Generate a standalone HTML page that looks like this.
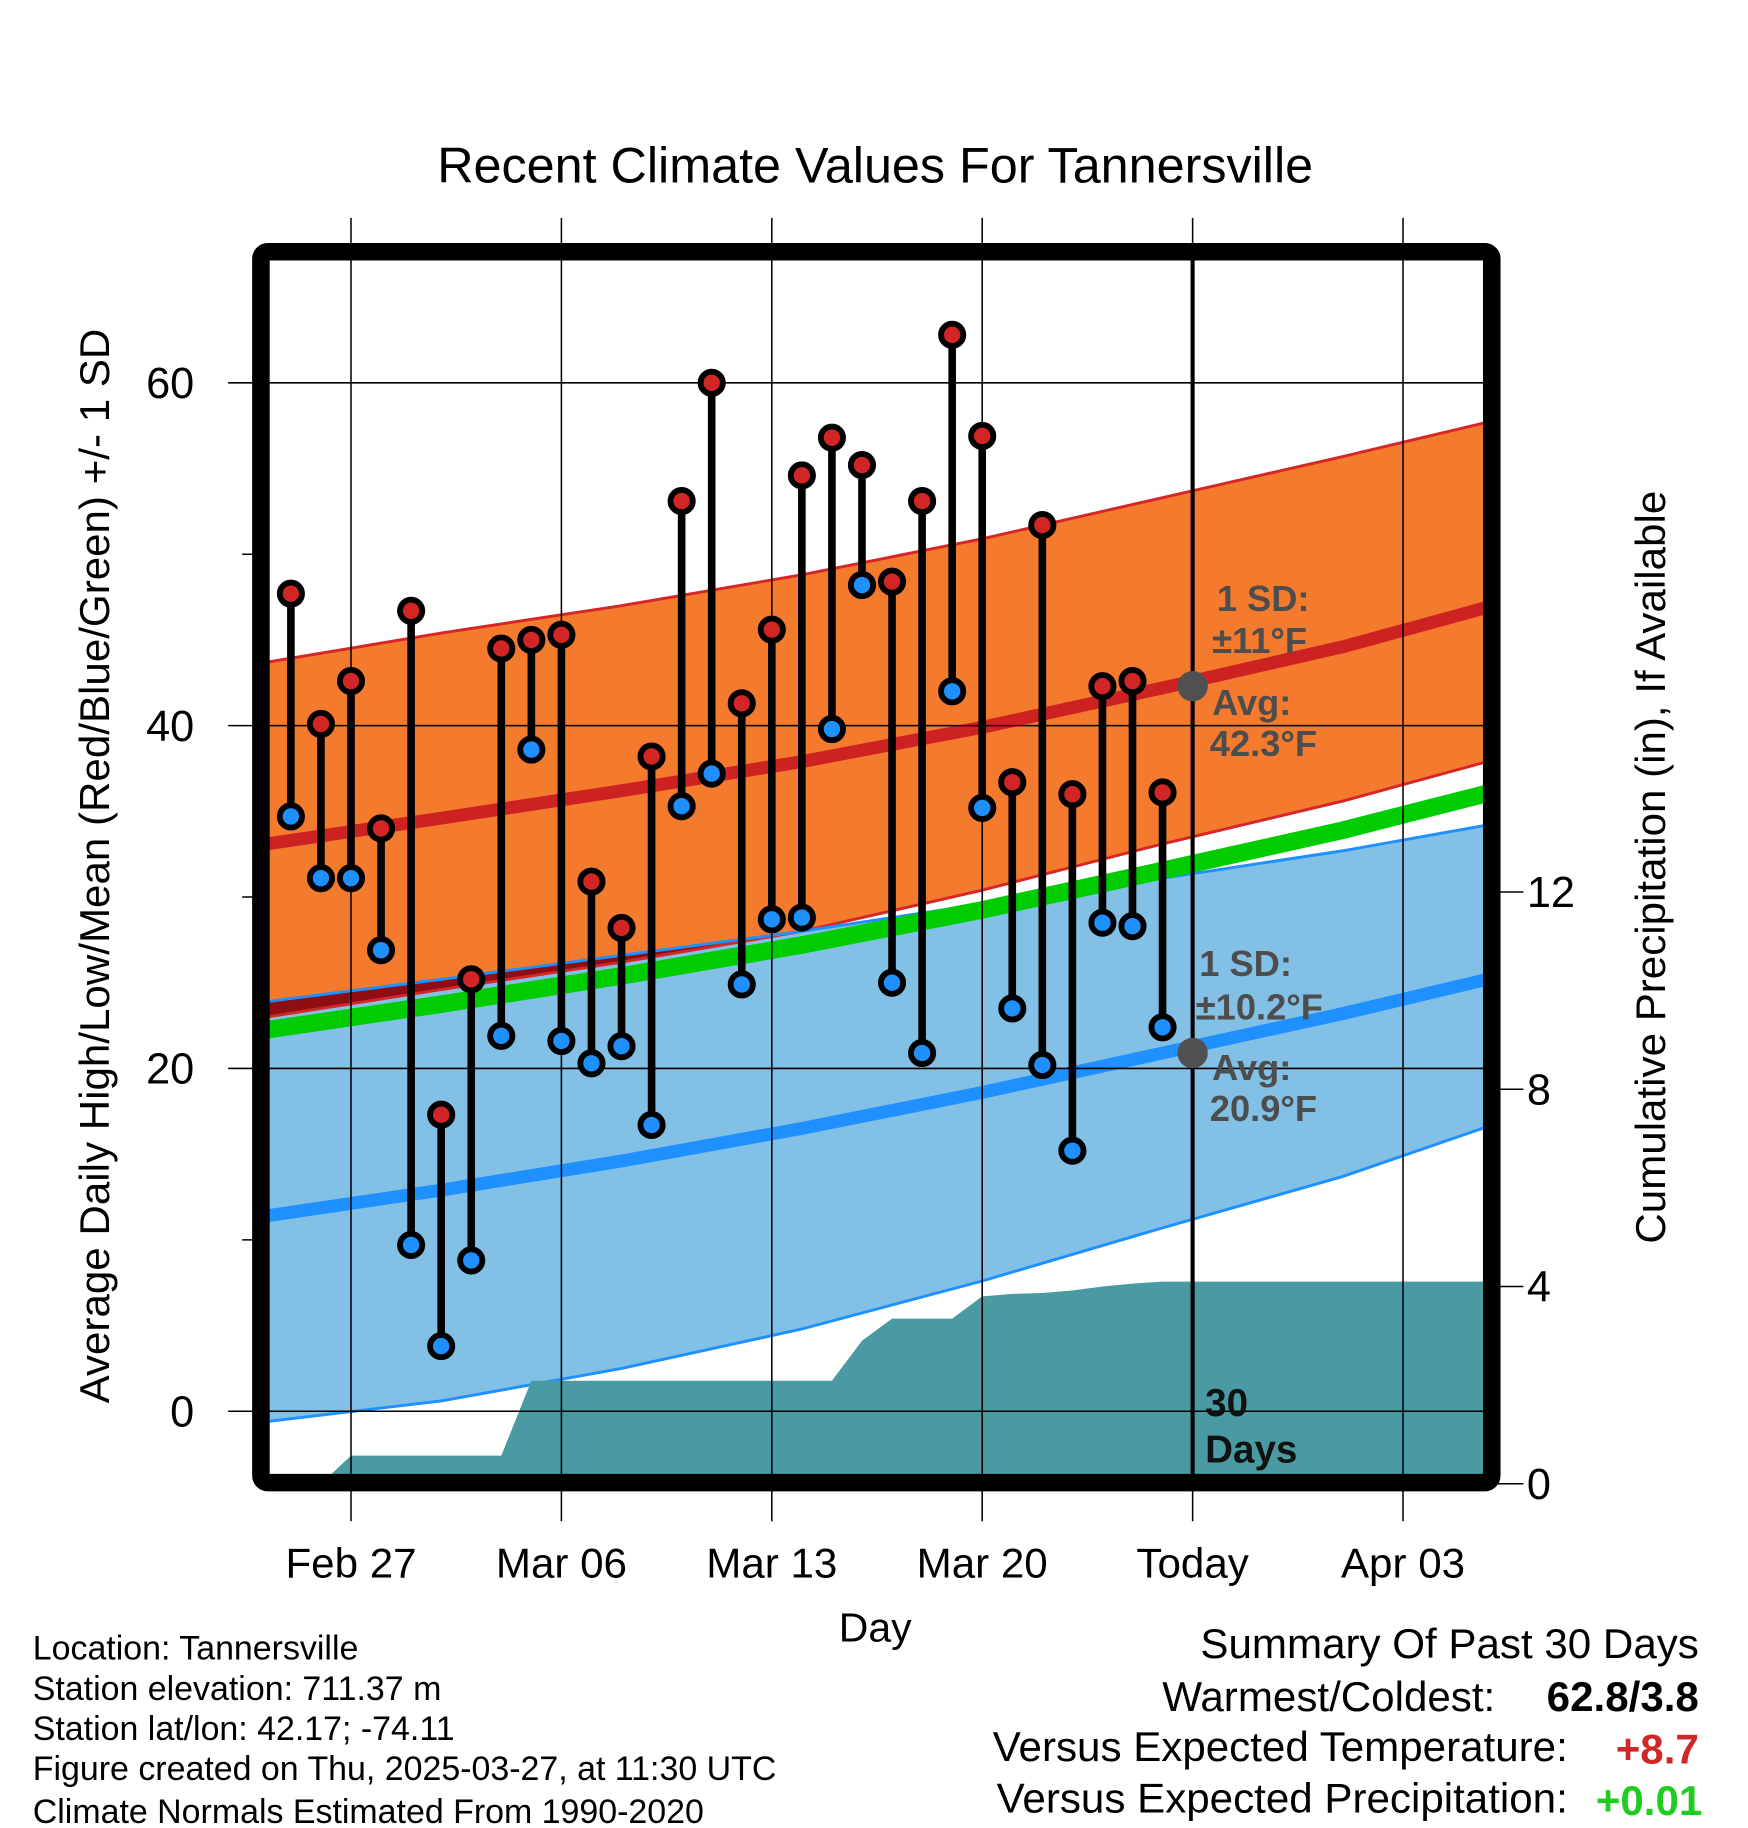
<!DOCTYPE html>
<html><head><meta charset="utf-8"><style>
html,body{margin:0;padding:0;background:#fff}
svg{display:block;font-family:"Liberation Sans",sans-serif}
</style></head><body>
<svg id="chart" width="1748" height="1828" viewBox="0 0 1494 1562" xmlns="http://www.w3.org/2000/svg">
<text x="748" y="156" font-size="43" text-anchor="middle">Recent Climate Values For Tannersville</text>
<g id="plot"></g>
<text transform="translate(93,740) rotate(-90)" font-size="36" text-anchor="middle">Average Daily High/Low/Mean (Red/Blue/Green) +/- 1 SD</text>
<text transform="translate(1423,741) rotate(-90)" font-size="36" text-anchor="middle">Cumulative Precipitation (in), If Available</text>
<text x="748" y="1403" font-size="35" text-anchor="middle">Day</text>
<g font-size="29">
<text x="28" y="1418">Location: Tannersville</text>
<text x="28" y="1453">Station elevation: 711.37 m</text>
<text x="28" y="1487">Station lat/lon: 42.17; -74.11</text>
<text x="28" y="1521">Figure created on Thu, 2025-03-27, at 11:30 UTC</text>
<text x="28" y="1558">Climate Normals Estimated From 1990-2020</text>
</g>
<g font-size="36">
<text x="1452" y="1417" text-anchor="end">Summary Of Past 30 Days</text>
<text x="1278" y="1462" text-anchor="end">Warmest/Coldest:</text>
<text x="1452" y="1462" text-anchor="end" font-weight="bold">62.8/3.8</text>
<text x="1340" y="1505" text-anchor="end">Versus Expected Temperature:</text>
<text x="1452" y="1507" text-anchor="end" font-weight="bold" fill="#d02828">+8.7</text>
<text x="1340" y="1549" text-anchor="end">Versus Expected Precipitation:</text>
<text x="1455" y="1551" text-anchor="end" font-weight="bold" fill="#1fcc1f">+0.01</text>
</g>
</svg>
<script>
const days=[-2,-1,0,1,2,3,4,5,6,7,8,9,10,11,12,13,14,15,16,17,18,19,20,21,22,23,24,25,26,27];
const highs=[47.7,40.1,42.6,34.0,46.7,17.3,25.2,44.5,45.0,45.3,30.9,28.2,38.2,53.1,60.0,41.3,45.6,54.6,56.8,55.2,48.4,53.1,62.8,56.9,36.7,51.7,36.0,42.3,42.6,36.1];
const lows=[34.7,31.1,31.1,26.9,9.7,3.8,8.8,21.9,38.6,21.6,20.3,21.3,16.7,35.3,37.2,24.9,28.7,28.8,39.8,48.2,25.0,20.9,42.0,35.2,23.5,20.2,15.2,28.5,28.3,22.4];
const precip=[0,0,0.57,0.57,0.57,0.57,0.57,0.57,2.09,2.09,2.09,2.09,2.09,2.09,2.09,2.09,2.09,2.09,2.09,2.9,3.35,3.35,3.35,3.8,3.85,3.87,3.92,4.0,4.06,4.1];
const normDays=[-3,3,9,15,21,27,33,38];
const avgHigh=[33.1,34.6,36.2,37.9,39.9,42.2,44.6,46.9];
const highUpper=[43.7,45.4,47.0,48.8,50.9,53.3,55.7,57.7];
const highLower=[23.0,24.6,26.2,28.0,30.4,33.1,35.6,37.9];
const avgLow=[11.4,12.9,14.6,16.5,18.6,20.9,23.2,25.2];
const lowUpper=[23.9,25.2,26.6,28.0,29.6,31.1,32.7,34.2];
const lowLower=[-0.6,0.6,2.5,4.8,7.6,10.7,13.7,16.6];
const xTickDays=[0,7,14,21,28,35];
const xTickLabels=["Feb 27","Mar 06","Mar 13","Mar 20","Today","Apr 03"];
const todayDay=28;
const yTicks=[0,20,40,60];
const yMinor=[10,30,50];
const pTicks=[0,4,8,12];

const NS="http://www.w3.org/2000/svg";
const L=230,R=1268,T=222,B=1260;
const x=d=>300+25.69*d;
const y=t=>1206-14.65*t;
const yp=p=>1268-42.15*p;
const plot=document.getElementById('plot');
function mk(tag,attrs,parent){const e=document.createElementNS(NS,tag);for(const k in attrs)e.setAttribute(k,attrs[k]);(parent||plot).appendChild(e);return e;}
const defs=mk('defs',{});
const cp=mk('clipPath',{id:'clip'},defs);mk('rect',{x:L,y:T,width:R-L,height:B-T},cp);
const g=mk('g',{'clip-path':'url(#clip)'});
const nd=normDays.map((d,i)=>i==0?-2.8:(i==normDays.length-1?37.8:d));
function linePts(arr){return nd.map((d,i)=>x(d)+','+y(arr[i])).join(' ');}
function band(up,lo){return nd.map((d,i)=>x(d)+','+y(up[i])).concat(nd.slice().reverse().map((d,j)=>{const i=nd.length-1-j;return x(d)+','+y(lo[i]);})).join(' ');}
let e;
e=mk('polygon',{points:band(highUpper,highLower),fill:'#f47a2e'},g);

e=mk('polygon',{points:band(lowUpper,lowLower),fill:'#82c0e6'},g);

const ovTop=lowUpper.map((v,i)=>Math.max(v,highLower[i]));
e=mk('polygon',{points:band(ovTop,highLower),fill:'#8f0e14'},g);

[[highUpper,'#d62626',2.5],[highLower,'#d62626',2.5],[lowUpper,'#1e90ff',2.5],[lowLower,'#1e90ff',2.5]].forEach((a,k)=>{
 e=mk('polyline',{points:linePts(a[0]),fill:'none',stroke:a[1],'stroke-width':a[2]},g);
 });
const mean=avgHigh.map((v,i)=>(v+avgLow[i])/2);
e=mk('polyline',{points:linePts(mean),fill:'none',stroke:'#00cc00','stroke-width':15},g);

e=mk('polyline',{points:linePts(avgHigh),fill:'none',stroke:'#cc2222','stroke-width':11},g);

e=mk('polyline',{points:linePts(avgLow),fill:'none',stroke:'#1e90ff','stroke-width':11},g);

// precip
let pp=[x(days[0])+','+yp(0)];
days.forEach((d,i)=>pp.push(x(d)+','+yp(precip[i])));
pp.push(x(38)+','+yp(precip[precip.length-1]));pp.push(x(38)+','+yp(0));
e=mk('polygon',{points:pp.join(' '),fill:'#4a9aa4'},g);

// grid
xTickDays.forEach((d,i)=>{
 e=mk('line',{x1:x(d),x2:x(d),y1:186,y2:1300,stroke:'#000','stroke-width':1.3});
 
 e=mk('text',{x:x(d),y:1348,'font-size':36,'text-anchor':'middle'});e.textContent=xTickLabels[i];
 
});
yTicks.forEach(t=>{
 e=mk('line',{x1:195,x2:R,y1:y(t),y2:y(t),stroke:'#000','stroke-width':1.3});
 
 e=mk('text',{x:166,y:y(t)+13,'font-size':37,'text-anchor':'end'});e.textContent=t;
 
});
yMinor.forEach(t=>{e=mk('line',{x1:207,x2:L,y1:y(t),y2:y(t),stroke:'#000','stroke-width':1.3});
 });
pTicks.forEach(p=>{
 e=mk('line',{x1:1276,x2:1302,y1:yp(p),y2:yp(p),stroke:'#000','stroke-width':1.3});
 
 e=mk('text',{x:1305,y:yp(p)+13,'font-size':37});e.textContent=p;
 
});
// today line
e=mk('line',{x1:x(todayDay),x2:x(todayDay),y1:T,y2:B,stroke:'#000','stroke-width':3.5});

// lollipops
days.forEach((d,i)=>{
 e=mk('line',{x1:x(d),x2:x(d),y1:y(highs[i]),y2:y(lows[i]),stroke:'#000','stroke-width':6.5});
 
});
days.forEach((d,i)=>{
 e=mk('circle',{cx:x(d),cy:y(highs[i]),r:9.5,fill:'#d22626',stroke:'#000','stroke-width':5});
 
 e=mk('circle',{cx:x(d),cy:y(lows[i]),r:9.5,fill:'#1e90ff',stroke:'#000','stroke-width':5});
 
});
// annotations
e=mk('circle',{cx:x(todayDay),cy:y(42.3),r:13,fill:'#505050'});

e=mk('circle',{cx:x(todayDay),cy:y(20.9),r:13,fill:'#505050'});

const ann=[["1 SD:",1040,522],["±11°F",1036,558],["Avg:",1036,611],["42.3°F",1034,646],["1 SD:",1025,834],["±10.2°F",1022,871],["Avg:",1036,923],["20.9°F",1034,958]];
ann.forEach(a=>{e=mk('text',{x:a[1],y:a[2],'font-size':31,'font-weight':'bold',fill:'#4d4d4d'});e.textContent=a[0];
 });
[["30",1210],["Days",1250]].forEach(a=>{e=mk('text',{x:1030,y:a[1],'font-size':33,'font-weight':'bold',fill:'#111'});e.textContent=a[0];
 });
// frame
e=mk('rect',{x:223,y:215,width:1052,height:1052,rx:6,fill:'none',stroke:'#000','stroke-width':15});

</script>
</body></html>
